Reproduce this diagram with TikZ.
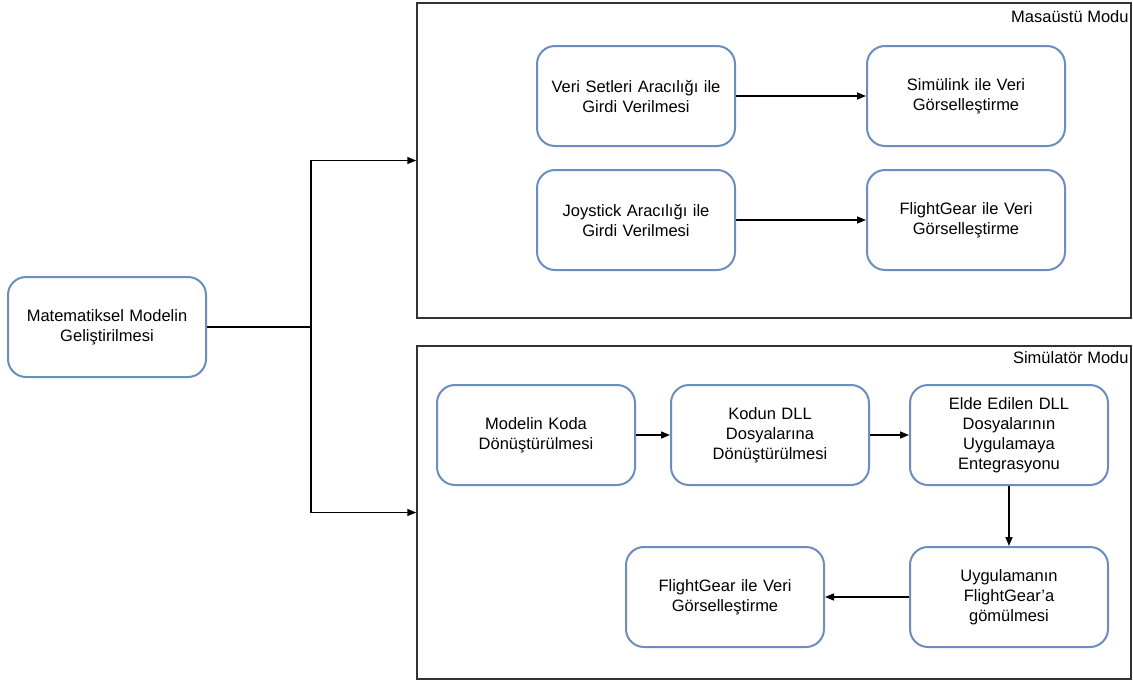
\documentclass[tikz,border=0pt]{standalone}
\usepackage{fontspec}
\setmainfont{Liberation Sans}
\usetikzlibrary{arrows.meta, positioning}
\definecolor{boxblue}{RGB}{108,142,191}

\tikzset{
    stepbox/.style={draw=boxblue, line width=2pt, rounded corners=18pt, fill=white,
        minimum width=198pt, minimum height=100pt, align=center, text width=190pt,
        font=\fontsize{16.5}{20}\selectfont},
    modebox/.style={draw=black!80, line width=1.5pt},
    flow/.style={line width=1.5pt, -{Triangle[length=9pt, width=7pt]}},
}

\begin{document}
\begin{tikzpicture}[x=1pt, y=-1pt]
                \useasboundingbox (0, 0) rectangle (1133, 681);

                % mode containers
                \node[modebox, minimum width=714pt, minimum height=315pt] (DESK) at (774, 160.5) {};
                \node[modebox, minimum width=714pt, minimum height=333pt] (SIM) at (774, 512.5) {};
                \node[anchor=north east, inner sep=2pt, font=\fontsize{16.5}{20}\selectfont] at ([xshift=-1pt, yshift=-6pt]DESK.north east) {Masaüstü Modu};
                \node[anchor=north east, inner sep=2pt, font=\fontsize{16.5}{20}\selectfont] at ([xshift=-1pt, yshift=-4pt]SIM.north east) {Simülatör Modu};

                \node[stepbox] (MM) at (107, 327) {Matematiksel Modelin\\Geliştirilmesi};
                \coordinate (J) at (311, 327);

                % Masaüstü Modu
                \node[stepbox] (VS) at (636, 96) {Veri Setleri Aracılığı ile\\Girdi Verilmesi};
                \node[stepbox] (SG) at (966, 96) {Simülink ile Veri\\Görselleştirme};
                \node[stepbox] (JS) at (636, 220) {Joystick Aracılığı ile\\Girdi Verilmesi};
                \node[stepbox] (FA) at (966, 220) {FlightGear ile Veri\\Görselleştirme};

                % Simülatör Modu
                \node[stepbox] (MK) at (536, 435) {Modelin Koda\\Dönüştürülmesi};
                \node[stepbox] (KD) at (770, 435) {Kodun DLL\\Dosyalarına\\Dönüştürülmesi};
                \node[stepbox] (ED) at (1009, 435) {Elde Edilen DLL\\Dosyalarının\\Uygulamaya\\Entegrasyonu};
                \node[stepbox] (UG) at (1009, 597) {Uygulamanın\\FlightGear’a\\gömülmesi};
                \node[stepbox] (FB) at (725, 597) {FlightGear ile Veri\\Görselleştirme};

                \draw[line width=2.5pt] (MM) -- (J);
                \draw[flow] (J) |- (DESK.west);
                \draw[flow] (J) |- (SIM.west);

                \draw[flow] (VS) -- (SG);
                \draw[flow] (JS) -- (FA);
                \draw[flow] (MK) -- (KD);
                \draw[flow] (KD) -- (ED);
                \draw[flow] (ED) -- (UG);
                \draw[flow] (UG) -- (FB);
            \end{tikzpicture}
\end{document}
